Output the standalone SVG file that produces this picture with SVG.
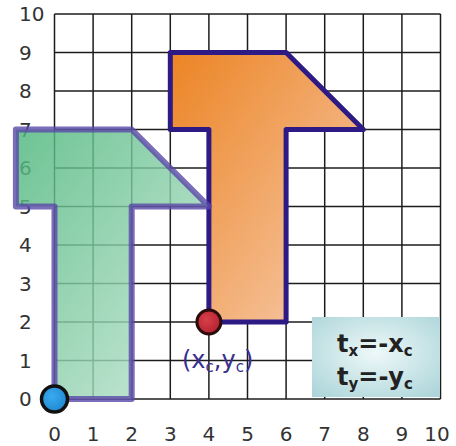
<svg xmlns="http://www.w3.org/2000/svg" width="456" height="446" viewBox="0 0 456 446">
<defs>
<linearGradient id="gOrange" x1="0" y1="0" x2="1" y2="1">
<stop offset="0" stop-color="#ec8424"/>
<stop offset="1" stop-color="#f7cdb0"/>
</linearGradient>
<linearGradient id="gGreen" x1="0" y1="0" x2="1" y2="1">
<stop offset="0" stop-color="#4db67c"/>
<stop offset="1" stop-color="#c4e6d4"/>
</linearGradient>
<radialGradient id="gBox" cx="0.5" cy="0.45" r="0.75">
<stop offset="0" stop-color="#eef8f8"/>
<stop offset="1" stop-color="#a8d3d8"/>
</radialGradient>
<radialGradient id="gRed" cx="0.4" cy="0.4" r="0.7">
<stop offset="0" stop-color="#d8404a"/>
<stop offset="1" stop-color="#b01e2c"/>
</radialGradient>
<radialGradient id="gBlue" cx="0.4" cy="0.4" r="0.7">
<stop offset="0" stop-color="#3aaaf0"/>
<stop offset="1" stop-color="#1b84cc"/>
</radialGradient>
</defs>
<style>
.grid line{stroke:#1c1c1c;stroke-width:1.5}
.ax{font-family:"DejaVu Sans",sans-serif;font-size:20px;fill:#333}
.axx{text-anchor:middle}
.eq{font-family:"DejaVu Sans",sans-serif;font-size:24px;font-weight:bold;fill:#222}
.lbl{font-family:"DejaVu Sans",sans-serif;font-size:24px;fill:#3a2e8e}
</style>
<rect width="456" height="446" fill="#ffffff"/>
<g id="grid" class="grid">
<line x1="54.5" y1="14" x2="54.5" y2="399"/>
<line x1="93.1" y1="14" x2="93.1" y2="399"/>
<line x1="131.7" y1="14" x2="131.7" y2="399"/>
<line x1="170.3" y1="14" x2="170.3" y2="399"/>
<line x1="208.9" y1="14" x2="208.9" y2="399"/>
<line x1="247.5" y1="14" x2="247.5" y2="399"/>
<line x1="286.1" y1="14" x2="286.1" y2="399"/>
<line x1="324.7" y1="14" x2="324.7" y2="399"/>
<line x1="363.3" y1="14" x2="363.3" y2="399"/>
<line x1="401.9" y1="14" x2="401.9" y2="399"/>
<line x1="440.5" y1="14" x2="440.5" y2="399"/>
<line x1="54.5" y1="14" x2="440.5" y2="14"/>
<line x1="54.5" y1="52.5" x2="440.5" y2="52.5"/>
<line x1="54.5" y1="91" x2="440.5" y2="91"/>
<line x1="54.5" y1="129.5" x2="440.5" y2="129.5"/>
<line x1="54.5" y1="168" x2="440.5" y2="168"/>
<line x1="54.5" y1="206.5" x2="440.5" y2="206.5"/>
<line x1="54.5" y1="245" x2="440.5" y2="245"/>
<line x1="54.5" y1="283.5" x2="440.5" y2="283.5"/>
<line x1="54.5" y1="322" x2="440.5" y2="322"/>
<line x1="54.5" y1="360.5" x2="440.5" y2="360.5"/>
<line x1="54.5" y1="399" x2="440.5" y2="399"/>
</g>
<g id="y-axis-labels" class="ax">
<text x="19" y="21">10</text>
<text x="19" y="59.5">9</text>
<text x="19" y="98">8</text>
<text x="19" y="136.5">7</text>
<text x="19" y="175">6</text>
<text x="19" y="213.5">5</text>
<text x="19" y="252">4</text>
<text x="19" y="290.5">3</text>
<text x="19" y="329">2</text>
<text x="19" y="367.5">1</text>
<text x="19" y="406">0</text>
</g>
<g id="x-axis-labels" class="ax axx">
<text x="54.5" y="441">0</text>
<text x="93.1" y="441">1</text>
<text x="131.7" y="441">2</text>
<text x="170.3" y="441">3</text>
<text x="208.9" y="441">4</text>
<text x="247.5" y="441">5</text>
<text x="286.1" y="441">6</text>
<text x="324.7" y="441">7</text>
<text x="363.3" y="441">8</text>
<text x="401.9" y="441">9</text>
<text x="437" y="441">10</text>
</g>
<g id="orange-shape">
<polygon points="208.9,322 286.1,322 286.1,129.5 363.3,129.5 286.1,52.5 170.3,52.5 170.3,129.5 208.9,129.5" fill="url(#gOrange)" stroke="#2d1a85" stroke-width="5" stroke-linejoin="round"/>
</g>
<g id="green-shape">
<polygon points="54.5,399 131.7,399 131.7,206.5 208.9,206.5 131.7,129.5 15.9,129.5 15.9,206.5 54.5,206.5" fill="url(#gGreen)" fill-opacity="0.82" stroke="#5a48a8" stroke-opacity="0.8" stroke-width="6" stroke-linejoin="round"/>
</g>
<g id="formula-box">
<rect x="312" y="317" width="128" height="80" fill="url(#gBox)"/>
<text class="eq" x="337" y="352">t<tspan font-size="15" dy="4">x</tspan><tspan dy="-4">=-x</tspan><tspan font-size="15" dy="4">c</tspan></text>
<text class="eq" x="337" y="385">t<tspan font-size="15" dy="4">y</tspan><tspan dy="-4">=-y</tspan><tspan font-size="15" dy="4">c</tspan></text>
</g>
<g id="center-point">
<circle cx="208.9" cy="322" r="12" fill="url(#gRed)" stroke="#2a0c0c" stroke-width="3"/>
<text class="lbl" x="182" y="368">(x<tspan font-size="15" dy="4">c</tspan><tspan dy="-4">,y</tspan><tspan font-size="15" dy="4">c</tspan><tspan dy="-4">)</tspan></text>
</g>
<g id="origin-point">
<circle cx="54.5" cy="399" r="13" fill="url(#gBlue)" stroke="#111" stroke-width="3.5"/>
</g>
<g id="connectors"/>
</svg>
